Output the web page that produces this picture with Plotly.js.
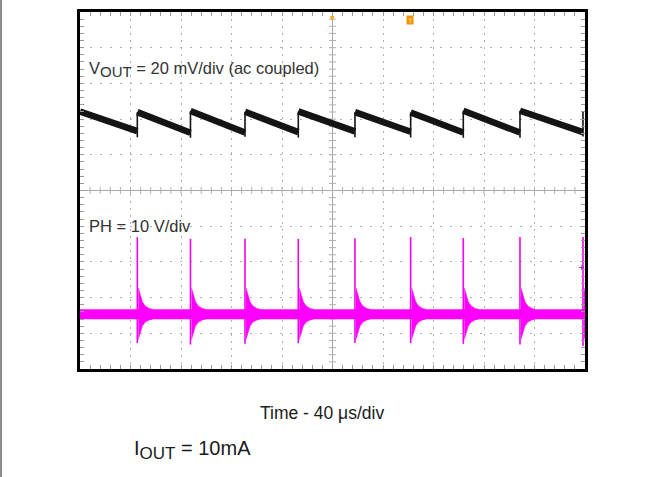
<!DOCTYPE html>
<html><head><meta charset="utf-8">
<script src="https://cdn.plot.ly/plotly-3.0.1.min.js"></script>
<style>
html,body{margin:0;padding:0;background:#fff;}
#chart{width:663px;height:477px;}
#edge{position:absolute;left:0;top:0;width:2px;height:477px;background:#8c8c8c;}
#err{position:absolute;left:420px;top:380px;width:240px;font:10px monospace;color:red;}
</style>
</head><body>
<div id="chart"></div><div id="edge"></div><div id="err"></div>
<script>
window.onerror = function (m) { document.getElementById('err').textContent = m; };
// ---- data read from the scope shot (time in µs, relative to the trigger at screen centre) ----
const switchTimes = [-154.6, -112.5, -69.3, -27.1, 17.8, 61.9, 103.6, 148.5, 198.4];

// VOUT ripple, mV (ac coupled)
const vStartTime = -200;
const vStart  = 5.9;
const vBefore = [-5.0, -6.0, -5.8, -5.6, -5.2, -5.4, -5.8, -5.8, -5.6];
const vDip    = [-8.5, -8.8, -8.2, -8.6, -8.4, -8.6, -8.8, -8.8, -8.0];
const vAfter  = [5.6, 6.2, 5.8, 6.0, 5.6, 5.4, 6.4, 6.4, 6.2];

// PH switch node, V
const phLevel     = 0;
const phSpikeHigh = [21.6, 21.1, 21.1, 21.1, 21.3, 21.6, 21.3, 21.6, 21.6];
const phSpikeLow  = [-8.1, -8.5, -8.3, -8.1, -8.1, -8.1, -8.3, -8.5, -8.9];
const ringOffsets = [0.8, 2.4, 4.0, 6.3, 9.5, 12.0];
const ringUpper   = [7.4, 5.0, 3.5, 2.3, 1.6, 1.4];
const ringLower   = [-7.1, -5.0, -3.3, -2.2, -1.6, -1.4];

// screen: 10 x 10 divisions, 40 µs/div, minor marks every 1/5 div
const tRange = [-200, 200];
const divRange = [-5, 5];
const tMinor = 8, divMinor = 0.2;

try {
const traces = [];

// VOUT ramps (thick noisy band)
const rx = [vStartTime, switchTimes[0], null];
const ry = [vStart, vBefore[0], null];
for (let i = 0; i + 1 < switchTimes.length; i++) {
  rx.push(switchTimes[i], switchTimes[i + 1], null);
  ry.push(vAfter[i], vBefore[i + 1], null);
}
traces.push({x: rx, y: ry, yaxis: 'y2', mode: 'lines', line: {color: '#141414', width: 6.5}, hoverinfo: 'skip'});
// VOUT fast edges (thin)
const jx = [], jy = [];
for (let i = 0; i < switchTimes.length; i++) {
  jx.push(switchTimes[i], switchTimes[i], switchTimes[i], null);
  jy.push(vBefore[i], vDip[i], vAfter[i], null);
}
traces.push({x: jx, y: jy, yaxis: 'y2', mode: 'lines', line: {color: '#141414', width: 1.6}, hoverinfo: 'skip'});

// PH baseline band
traces.push({x: tRange, y: [phLevel, phLevel], yaxis: 'y3', mode: 'lines', line: {color: '#ff00ff', width: 10}, hoverinfo: 'skip'});
// PH ringing envelopes
for (let i = 0; i < switchTimes.length; i++) {
  const xs = [], ys = [];
  ringOffsets.forEach((o, k) => { xs.push(switchTimes[i] + o); ys.push(ringUpper[k]); });
  for (let k = ringOffsets.length - 1; k >= 0; k--) { xs.push(switchTimes[i] + ringOffsets[k]); ys.push(ringLower[k]); }
  traces.push({x: xs, y: ys, yaxis: 'y3', mode: 'lines', fill: 'toself', fillcolor: '#ff00ff', line: {color: '#ff00ff', width: 0.5}, hoverinfo: 'skip'});
}
// PH spikes
const sx = [], sy = [];
for (let i = 0; i < switchTimes.length; i++) {
  sx.push(switchTimes[i], switchTimes[i], null);
  sy.push(phSpikeLow[i], phSpikeHigh[i], null);
}
traces.push({x: sx, y: sy, yaxis: 'y3', mode: 'lines', line: {color: '#f000f0', width: 1.6}, hoverinfo: 'skip'});

// centre-cross graticule tick marks
const cx = [], cy = [];
for (let t = tRange[0] + tMinor; t < tRange[1] - 1e-9; t += tMinor) { cx.push(t); cy.push(0); }
traces.push({x: cx, y: cy, mode: 'markers', marker: {symbol: 'line-ns', size: 5, line: {color: '#b0b0b0', width: 1}}, hoverinfo: 'skip'});
const vx = [], vy = [];
for (let d = divRange[0] + divMinor; d < divRange[1] - 1e-9; d += divMinor) { vx.push(0); vy.push(d); }
traces.push({x: vx, y: vy, mode: 'markers', marker: {symbol: 'line-ew', size: 5, line: {color: '#b0b0b0', width: 1}}, hoverinfo: 'skip'});

const tickGray = '#999999';
const gridGray = '#b0b0b0';

const layout = {
  width: 663, height: 477,
  margin: {l: 80, r: 78, t: 12, b: 108},
  paper_bgcolor: '#fff', plot_bgcolor: '#fff',
  showlegend: false,
  font: {family: 'Liberation Sans, Arial, sans-serif', color: '#222'},
  xaxis: {
    range: tRange, tick0: 0, dtick: 40, showgrid: true, gridcolor: gridGray, gridwidth: 1,
    griddash: '2px,5px', zeroline: true, zerolinecolor: '#a8a8a8', zerolinewidth: 1,
    showline: true, linecolor: '#000', linewidth: 3,
    mirror: 'ticks', ticks: 'inside', ticklen: 4, tickcolor: tickGray, showticklabels: false,
    minor: {dtick: tMinor, ticks: 'inside', ticklen: 4, tickcolor: tickGray, showgrid: false},
    fixedrange: true
  },
  yaxis: {
    range: divRange, tick0: 0, dtick: 1, showgrid: true, gridcolor: gridGray, gridwidth: 1,
    griddash: '2px,8px', zeroline: true, zerolinecolor: '#a8a8a8', zerolinewidth: 1,
    showline: true, linecolor: '#000', linewidth: 3,
    mirror: 'ticks', ticks: 'inside', ticklen: 4, tickcolor: tickGray, showticklabels: false,
    minor: {dtick: divMinor, ticks: 'inside', ticklen: 4, tickcolor: tickGray, showgrid: false},
    fixedrange: true
  },
  yaxis2: {overlaying: 'y', range: [-138.3, 61.7], visible: false, fixedrange: true},
  yaxis3: {overlaying: 'y', range: [-15.35, 84.65], visible: false, fixedrange: true},
  annotations: [
    {xref: 'paper', yref: 'paper', x: 0.0135, y: 0.838, xanchor: 'left', yanchor: 'middle', showarrow: false,
     text: 'V<sub><span style="font-size:15px">OUT</span></sub> = 20 mV/div (ac coupled)', font: {size: 16.5, color: '#333'}},
    {xref: 'paper', yref: 'paper', x: 0.0135, y: 0.4006, xanchor: 'left', yanchor: 'middle', showarrow: false,
     text: 'PH = 10 V/div', font: {size: 16.5, color: '#333'}},
    {xref: 'paper', yref: 'paper', x: 0.479, y: -0.1246, xanchor: 'center', yanchor: 'middle', showarrow: false,
     text: 'Time - 40 μs/div', font: {size: 17.5, color: '#1a1a1a'}},
    {xref: 'paper', yref: 'paper', x: 0.1024, y: -0.226, xanchor: 'left', yanchor: 'middle', showarrow: false,
     text: 'I<sub><span style="font-size:17px">OUT</span></sub> = 10mA', font: {size: 20, color: '#1a1a1a'}},
    {xref: 'x', yref: 'paper', x: 0, y: 1, xanchor: 'center', yanchor: 'top', showarrow: false,
     text: '▼', font: {size: 6, color: '#f5a000', family: 'DejaVu Sans'}},
    {xref: 'x', yref: 'paper', x: 61.4, y: 0.9776, xanchor: 'center', yanchor: 'middle', showarrow: false,
     text: 'T', font: {size: 6, color: '#fff1c8', family: 'DejaVu Sans'}, bgcolor: '#f39200', borderpad: 0.5},
    {xref: 'x', yref: 'paper', x: 197.4, y: 0.2857, xanchor: 'center', yanchor: 'middle', showarrow: false,
     text: '+', font: {size: 8, color: '#8b1a89', family: 'DejaVu Sans'}}
  ]
};

Plotly.newPlot('chart', traces, layout, {staticPlot: true, displayModeBar: false})
  .catch(e => { document.getElementById('err').textContent = String(e); });
} catch (e) { document.getElementById('err').textContent = String(e && e.stack || e); }
</script>
</body></html>
